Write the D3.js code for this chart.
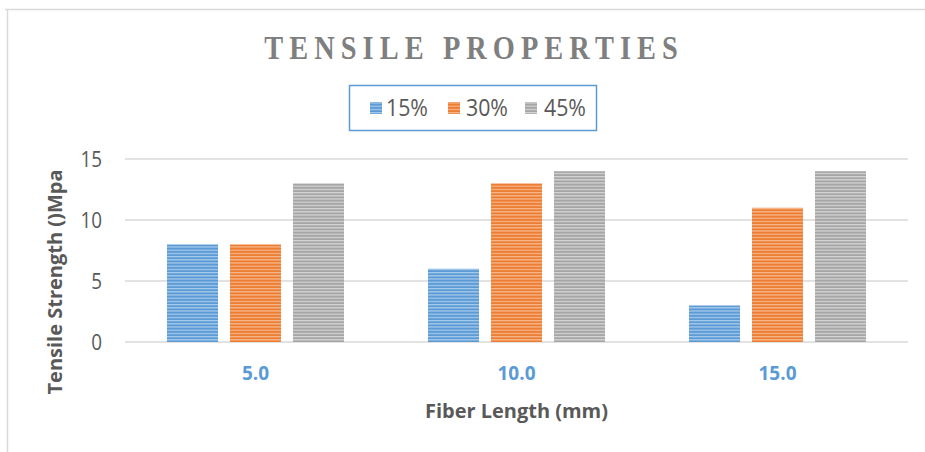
<!DOCTYPE html>
<html><head><meta charset="utf-8">
<script src="https://cdn.jsdelivr.net/npm/d3@7"></script>
<style>html,body{margin:0;padding:0;background:#fff;}svg{display:block;}</style>
</head><body>
<script>
const categories = ["5.0", "10.0", "15.0"];
const seriesNames = ["15%", "30%", "45%"];
const s15 = [8, 6, 3];
const s30 = [8, 13, 11];
const s45 = [13, 14, 14];
const yTicks = [0, 5, 10, 15];
const seriesValues = [s15, s30, s45];
const colors = ["#5b9bd5", "#ed7d31", "#a5a5a5"];
const stripes = ["#a9cbec", "#f6b990", "#d6d6d6"];

const W = 925, H = 452;
const svg = d3.select("body").append("svg").attr("width", W).attr("height", H);
const defs = svg.append("defs");
colors.forEach((c, i) => {
  const p = defs.append("pattern").attr("id", "pat" + i).attr("patternUnits", "userSpaceOnUse")
    .attr("width", 8).attr("height", 3.2);
  p.append("rect").attr("width", 8).attr("height", 3.2).attr("fill", c);
  p.append("rect").attr("y", 0).attr("width", 8).attr("height", 1.2).attr("fill", stripes[i]);
});

// chart border
svg.append("line").attr("x1", 5).attr("x2", W).attr("y1", 9.5).attr("y2", 9.5).attr("stroke", "#d9d9d9").attr("stroke-width", 1.5);
svg.append("line").attr("x1", 7.5).attr("x2", 7.5).attr("y1", 9).attr("y2", H).attr("stroke", "#d9d9d9").attr("stroke-width", 1.5);

const pLeft = 125, pRight = 908, pTop = 159, pBottom = 342;
const x0 = d3.scaleBand().domain(categories).range([pLeft, pRight]).paddingInner(0).paddingOuter(0);
const x1 = d3.scaleBand().domain(seriesNames).range([42, x0.bandwidth() - 42]).paddingInner(0.19);
const y = d3.scaleLinear().domain([0, 15]).range([pBottom, pTop]);

// gridlines
svg.append("g").selectAll("line").data(yTicks).join("line")
  .attr("x1", pLeft).attr("x2", pRight)
  .attr("y1", d => y(d)).attr("y2", d => y(d))
  .attr("stroke", "#d9d9d9").attr("stroke-width", 1.3);

// y tick labels
svg.append("g").selectAll("text").data(yTicks).join("text")
  .attr("x", 102).attr("y", d => y(d)).attr("dy", "0.36em")
  .attr("text-anchor", "end").attr("fill", "#595959")
  .attr("font-family", "'Open Sans', 'Noto Sans', sans-serif").attr("font-size", 21)
  .attr("transform", d => `translate(102,${y(d)}) scale(0.9,1) translate(-102,${-y(d)})`)
  .text(d => d);

// bars
const groups = svg.append("g").selectAll("g").data(categories).join("g")
  .attr("transform", d => `translate(${x0(d)},0)`);
groups.selectAll("rect").data((d, ci) => seriesNames.map((s, si) => ({s, si, v: seriesValues[si][ci]}))).join("rect")
  .attr("x", d => x1(d.s)).attr("width", x1.bandwidth())
  .attr("y", d => y(d.v)).attr("height", d => y(0) - y(d.v))
  .attr("fill", d => `url(#pat${d.si})`);

// x tick labels
svg.append("g").selectAll("text").data(categories).join("text")
  .attr("x", d => x0(d) + x0.bandwidth() / 2).attr("y", 380)
  .attr("text-anchor", "middle").attr("fill", "#5b9bd5").attr("font-weight", "bold")
  .attr("font-family", "'Open Sans', 'Noto Sans', sans-serif").attr("font-size", 19)
  .text(d => d);

// x axis title
svg.append("text").attr("x", (pLeft + pRight) / 2).attr("y", 418)
  .attr("text-anchor", "middle").attr("fill", "#595959").attr("font-weight", "bold")
  .attr("font-family", "'Open Sans', 'Noto Sans', sans-serif").attr("font-size", 20)
  .attr("textLength", 183).attr("lengthAdjust", "spacingAndGlyphs")
  .text("Fiber Length (mm)");

// y axis title
svg.append("text").attr("transform", "translate(62,282) rotate(-90)")
  .attr("text-anchor", "middle").attr("fill", "#595959").attr("font-weight", "bold")
  .attr("font-family", "'Open Sans', 'Noto Sans', sans-serif").attr("font-size", 20)
  .attr("textLength", 225).attr("lengthAdjust", "spacingAndGlyphs")
  .text("Tensile Strength ()Mpa");

// title (narrow, tall, letter-spaced)
svg.append("text").attr("transform", "translate(471,59) scale(0.86,1)")
  .attr("x", 0).attr("y", 0)
  .attr("text-anchor", "middle").attr("fill", "#7f7f7f").attr("font-weight", "bold")
  .attr("font-family", "'Liberation Serif', 'DejaVu Serif', serif").attr("font-size", 33)
  .attr("textLength", 481).attr("lengthAdjust", "spacing")
  .text("TENSILE PROPERTIES");

// legend
svg.append("rect").attr("x", 349.5).attr("y", 85.5).attr("width", 247).attr("height", 45)
  .attr("fill", "#fff").attr("stroke", "#5b9bd5").attr("stroke-width", 1.5);
const legX = [370, 448, 525];
const legTX = [386, 466, 544];
const leg = svg.append("g").selectAll("g").data(seriesNames).join("g");
leg.append("rect").attr("x", (d, i) => legX[i]).attr("y", 102).attr("width", 12).attr("height", 12)
  .attr("fill", (d, i) => `url(#pat${i})`);
leg.append("text").attr("x", (d, i) => legTX[i]).attr("y", 115.5)
  .attr("fill", "#595959").attr("font-family", "'Open Sans', 'Noto Sans', sans-serif").attr("font-size", 24)
  .attr("textLength", 42).attr("lengthAdjust", "spacingAndGlyphs")
  .text(d => d);
</script>
</body></html>
